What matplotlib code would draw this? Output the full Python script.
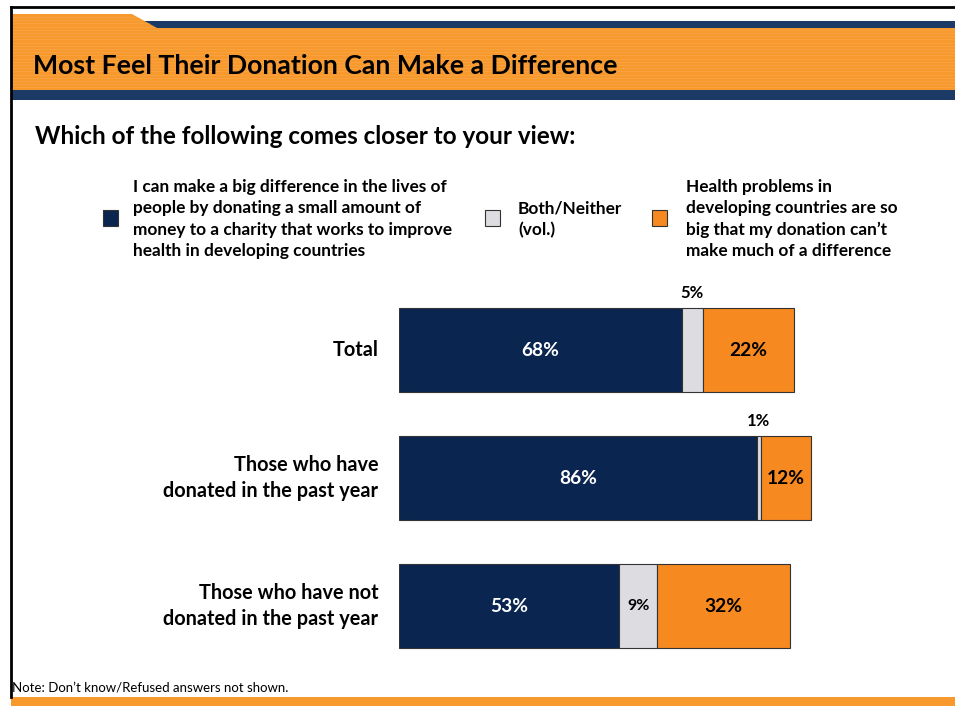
import matplotlib
matplotlib.use("Agg")
import matplotlib.pyplot as plt
from matplotlib.patches import Rectangle, Polygon
import numpy as np

# Survey data
categories = ["Total", "Those who have\ndonated in the past year", "Those who have not\ndonated in the past year"]
can_make_difference = [68, 86, 53]
both_neither = [5, 1, 9]
cannot_make_difference = [22, 12, 32]

legend_labels = [
    "I can make a big difference in the lives of\npeople by donating a small amount of\nmoney to a charity that works to improve\nhealth in developing countries",
    "Both/Neither\n(vol.)",
    "Health problems in\ndeveloping countries are so\nbig that my donation can\u2019t\nmake much of a difference",
]

title = "Most Feel Their Donation Can Make a Difference"
subtitle = "Which of the following comes closer to your view:"
note = "Note: Don\u2019t know/Refused answers not shown."

NAVY = "#0A2550"
GRAY = "#DCDCE1"
ORANGE = "#F6891F"
HEADER_ORANGE = "#F7992D"
HEADER_BLUE = "#1B3B66"

FONT = "Lato"
W, H = 955, 706
fig = plt.figure(figsize=(W / 100, H / 100), dpi=100)
fig.patch.set_facecolor("white")


def fx(x):
    return x / W


def fy(y):
    return 1 - y / H


def rect(x0, y0, x1, y1, color, z=1, **kw):
    fig.add_artist(Rectangle((fx(x0), fy(y1)), fx(x1) - fx(x0), fy(y0) - fy(y1),
                             transform=fig.transFigure, facecolor=color,
                             edgecolor="none", zorder=z, **kw))


# Slide frame: black border lines
fig.add_artist(plt.Line2D([fx(11), fx(W)], [fy(7), fy(7)], color="black", lw=2,
                          transform=fig.transFigure, zorder=5))
fig.add_artist(plt.Line2D([fx(11), fx(11)], [fy(7), fy(697)], color="black", lw=2,
                          transform=fig.transFigure, zorder=5))

# Header band with tab
rect(11, 21, W, 28, HEADER_BLUE)
fig.add_artist(Polygon([(fx(11), fy(14)), (fx(132), fy(14)), (fx(157), fy(28)),
                        (fx(W), fy(28)), (fx(W), fy(90)), (fx(11), fy(90))],
                       closed=True, transform=fig.transFigure,
                       facecolor=HEADER_ORANGE, edgecolor="none", zorder=2))
# faint horizontal stripes across the header
for yy in np.arange(17, 90, 3.2):
    x_start = 11
    x_end = W if yy >= 28 else 132 + (yy - 14) / 14 * 25
    fig.add_artist(plt.Line2D([fx(x_start), fx(x_end)], [fy(yy), fy(yy)],
                              color="#F9AE58", lw=0.5, alpha=0.6,
                              transform=fig.transFigure, zorder=3))
rect(11, 90, W, 100, HEADER_BLUE, z=3)
# Bottom band
rect(11, 697, W, H, HEADER_ORANGE, z=3)

fig.text(fx(33), fy(66), title, fontsize=19.2, fontweight="bold", family=FONT,
         ha="left", va="center", color="black", zorder=6)
fig.text(fx(35), fy(137), subtitle, fontsize=17.5, fontweight="bold", family=FONT,
         ha="left", va="center", color="black")

# Legend
legend_colors = [NAVY, GRAY, ORANGE]
legend_box_x = [103, 485, 652]
legend_text_x = [133, 518, 686]
for lab, col, bx, tx in zip(legend_labels, legend_colors, legend_box_x, legend_text_x):
    rect(bx, 210, bx + 15, 226, col, z=4)
    fig.add_artist(Rectangle((fx(bx), fy(226)), fx(15), 16 / H, transform=fig.transFigure,
                             facecolor="none", edgecolor="#333333", lw=0.8, zorder=5))
    fig.text(fx(tx), fy(219), lab, fontsize=12.4, fontweight="bold", family=FONT,
             ha="left", va="center", linespacing=1.4, color="black")

# Bar chart area: 1 percentage point = 4.16 px
ax_left, ax_right = 399, 399 + 416
ax_top, ax_bottom = 286, 670
ax = fig.add_axes([fx(ax_left), fy(ax_bottom), fx(ax_right) - fx(ax_left), (ax_bottom - ax_top) / H])
ax.set_xlim(0, 100)
ax.set_ylim(2.5, -0.5)
ax.axis("off")

y = np.arange(len(categories))
bh = 0.65
left2 = np.array(can_make_difference)
left3 = left2 + np.array(both_neither)
ax.barh(y, can_make_difference, height=bh, color=NAVY, edgecolor="#333333", lw=0.8)
ax.barh(y, both_neither, left=left2, height=bh, color=GRAY, edgecolor="#333333", lw=0.8)
ax.barh(y, cannot_make_difference, left=left3, height=bh, color=ORANGE, edgecolor="#333333", lw=0.8)

for i in range(len(categories)):
    a, b, c = can_make_difference[i], both_neither[i], cannot_make_difference[i]
    ax.text(a / 2, y[i], f"{a}%", color="white", fontsize=13.8, fontweight="bold",
            family=FONT, ha="center", va="center")
    if b >= 8:
        ax.text(a + b / 2, y[i], f"{b}%", color="black", fontsize=11.5, fontweight="bold",
                family=FONT, ha="center", va="center")
    else:
        ax.text(a + b / 2, y[i] - bh / 2 - 0.06, f"{b}%", color="black", fontsize=12,
                fontweight="bold", family=FONT, ha="center", va="bottom")
    ax.text(a + b + c / 2, y[i], f"{c}%", color="black", fontsize=13.8, fontweight="bold",
            family=FONT, ha="center", va="center")
    ax.text(-5, y[i], categories[i], color="black", fontsize=14.3, fontweight="bold",
            family=FONT, ha="right", va="center", linespacing=1.35)

fig.text(fx(12), fy(688), note, fontsize=9.5, family=FONT, ha="left", va="center", color="black")

fig.savefig("out.png", dpi=100)
